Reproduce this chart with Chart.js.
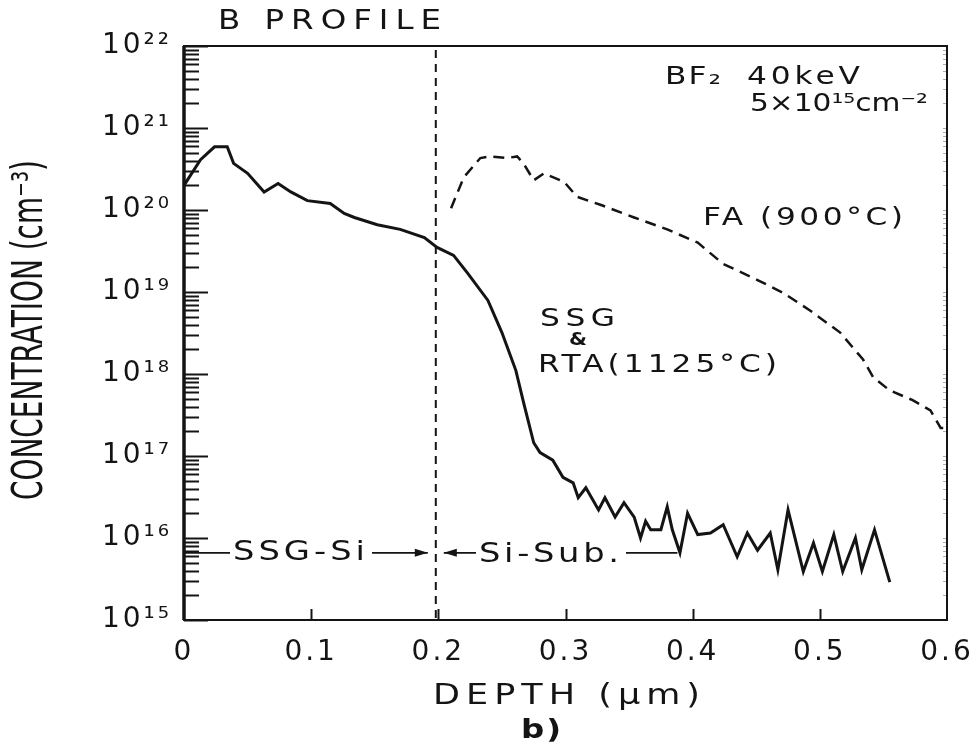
<!DOCTYPE html>
<html>
<head>
<meta charset="utf-8">
<script src="https://cdn.jsdelivr.net/npm/chart.js@4"></script>
<style>
  body { margin: 0; background: #fff; }
</style>
</head>
<body>
<canvas id="profileChart" width="980" height="750"></canvas>
<script>
// depth in um, concentration in cm^-3
const depthSsg = [0.000, 0.013, 0.024, 0.034, 0.039, 0.050, 0.063, 0.074, 0.084, 0.097,
    0.115, 0.126, 0.134, 0.152, 0.170, 0.189, 0.199, 0.212, 0.223, 0.239,
    0.250, 0.261, 0.267, 0.275, 0.280, 0.290, 0.298, 0.306, 0.310, 0.316,
    0.326, 0.331, 0.339, 0.346, 0.354, 0.359, 0.363, 0.367, 0.375, 0.380,
    0.384, 0.390, 0.396, 0.404, 0.414, 0.424, 0.435, 0.443, 0.451, 0.461,
    0.467, 0.475, 0.487, 0.495, 0.502, 0.511, 0.518, 0.528, 0.533, 0.543, 0.555];
const concSsg = [2.0e20, 4.1e20, 5.9e20, 5.9e20, 3.7e20, 2.8e20, 1.66e20, 2.1e20, 1.66e20, 1.3e20,
    1.2e20, 9.1e19, 8.1e19, 6.6e19, 5.8e19, 4.6e19, 3.5e19, 2.8e19, 1.7e19, 7.9e18,
    3.2e18, 1.1e18, 4.5e17, 1.45e17, 1.1e17, 8.9e16, 5.5e16, 4.7e16, 3.1e16, 4.1e16,
    2.2e16, 3.1e16, 1.8e16, 2.7e16, 1.8e16, 1.0e16, 1.6e16, 1.26e16, 1.26e16, 2.4e16,
    1.26e16, 6.6e15, 2.0e16, 1.1e16, 1.15e16, 1.45e16, 5.9e15, 1.15e16, 7.1e15, 1.15e16,
    4.1e15, 2.2e16, 3.9e15, 8.7e15, 3.9e15, 1.1e16, 3.9e15, 1.0e16, 4.1e15, 1.26e16, 2.9e15];

const depthFa = [0.210, 0.220, 0.233, 0.241, 0.254, 0.262, 0.267, 0.275, 0.283, 0.299,
    0.309, 0.328, 0.354, 0.380, 0.404, 0.424, 0.451, 0.471, 0.492, 0.516,
    0.534, 0.542, 0.555, 0.573, 0.587, 0.595, 0.600];
const concFa = [1.05e20, 2.5e20, 4.3e20, 4.5e20, 4.3e20, 4.5e20, 3.7e20, 2.3e20, 2.8e20, 2.2e20,
    1.45e20, 1.15e20, 8.1e19, 5.8e19, 4.0e19, 2.2e19, 1.4e19, 9.8e18, 6.0e18, 3.2e18,
    1.5e18, 9.1e17, 6.3e17, 4.8e17, 3.6e17, 2.2e17, 2.2e17];

const xTicks = [0, 0.1, 0.2, 0.3, 0.4, 0.5, 0.6];
const yDecades = [15, 16, 17, 18, 19, 20, 21, 22];
const interfaceDepth = 0.198;   // SSG-Si / Si-Sub boundary
const layerMarkConc = 6.6e15;
const subEndDepth = 0.388;

const INK = '#141414';
const FONT = '"DejaVu Sans", sans-serif';
const SUP = {'0':'⁰','1':'¹','2':'²','3':'³','4':'⁴','5':'⁵','6':'⁶','7':'⁷','8':'⁸','9':'⁹'};
function sup(n) { return String(n).split('').map(c => SUP[c]).join(''); }

function toPoints(xs, ys) { return xs.map((x, i) => ({ x: x, y: ys[i] })); }

// text fitted to a given width (wider glyphs first, then spacing), left edge at x
function spaced(ctx, text, x, y, size, width, weight) {
    ctx.save();
    ctx.font = (weight || 'normal') + ' ' + size + 'px ' + FONT;
    ctx.letterSpacing = '0px';
    ctx.textAlign = 'left';
    ctx.textBaseline = 'middle';
    const w = ctx.measureText(text).width;
    const n = Array.from(text).length;
    ctx.translate(x, y);
    if (w < width) {
        const sx = Math.min(1.25, width / w);
        const ls = n > 1 ? (width / sx - w) / (n - 1) : 0;
        ctx.scale(sx, 1);
        ctx.letterSpacing = ls + 'px';
        ctx.fillText(text, 0, 0);
    } else {
        ctx.fillText(text, 0, 0, width);
    }
    ctx.restore();
}

function arrowHead(ctx, x, y, dir) {
    ctx.beginPath();
    ctx.moveTo(x, y);
    ctx.lineTo(x - dir * 13, y - 4);
    ctx.lineTo(x - dir * 13, y + 4);
    ctx.closePath();
    ctx.fill();
}

const framePlugin = {
    id: 'frame',
    beforeDraw(chart) {
        chart.ctx.letterSpacing = '3px';
    },
    afterDraw(chart) {
        const ctx = chart.ctx;
        const a = chart.chartArea;
        const xs = chart.scales.x, ys = chart.scales.y;
        ctx.save();
        ctx.letterSpacing = '0px';
        ctx.strokeStyle = INK;
        ctx.fillStyle = INK;

        // frame
        ctx.lineWidth = 2;
        ctx.strokeRect(a.left, a.top, a.right - a.left, a.bottom - a.top);
        ctx.lineWidth = 3.5;
        ctx.beginPath();
        ctx.moveTo(a.left, a.top);
        ctx.lineTo(a.left, a.bottom);
        ctx.stroke();

        // y ticks pointing inward
        yDecades.forEach(e => {
            for (let m = 1; m <= 9; m++) {
                if (e === yDecades[yDecades.length - 1] && m > 1) break;
                const py = Math.round(ys.getPixelForValue(m * Math.pow(10, e))) + 0.5;
                ctx.strokeStyle = INK;
                ctx.lineWidth = 2;
                ctx.beginPath();
                ctx.moveTo(a.left, py);
                ctx.lineTo(a.left + (m === 1 ? 24 : 15), py);
                ctx.stroke();
                ctx.strokeStyle = 'rgba(20,20,20,0.35)';
                ctx.lineWidth = 1;
                ctx.beginPath();
                ctx.moveTo(a.right, py);
                ctx.lineTo(a.right - 4, py);
                ctx.stroke();
            }
        });
        ctx.strokeStyle = INK;

        // x ticks pointing up
        ctx.lineWidth = 2;
        xTicks.slice(1, -1).forEach(v => {
            const px = Math.round(xs.getPixelForValue(v)) + 0.5;
            ctx.beginPath();
            ctx.moveTo(px, a.bottom);
            ctx.lineTo(px, a.bottom - 11);
            ctx.stroke();
        });

        // interface line
        const xi = xs.getPixelForValue(interfaceDepth);
        ctx.setLineDash([8, 6]);
        ctx.beginPath();
        ctx.moveTo(xi, a.top + 4);
        ctx.lineTo(xi, a.bottom);
        ctx.stroke();
        ctx.setLineDash([]);

        // layer markers
        const yl = ys.getPixelForValue(layerMarkConc);
        const x0 = xs.getPixelForValue(0);
        const xe = xs.getPixelForValue(subEndDepth);
        ctx.lineWidth = 1.8;
        ctx.beginPath();
        ctx.moveTo(x0, yl); ctx.lineTo(x0 + 46, yl);
        ctx.moveTo(372, yl); ctx.lineTo(xi - 8, yl);
        ctx.moveTo(xi + 8, yl); ctx.lineTo(476, yl);
        ctx.moveTo(626, yl); ctx.lineTo(xe, yl);
        ctx.stroke();
        arrowHead(ctx, xi - 8, yl, 1);
        arrowHead(ctx, xi + 8, yl, -1);
        spaced(ctx, 'SSG-Si', 233, yl, 27, 132);
        spaced(ctx, 'Si-Sub.', 479, yl + 2, 27, 140);

        // labels
        spaced(ctx, 'B PROFILE', 218, 22, 26, 223);
        spaced(ctx, 'BF₂', 665, 77, 25, 56);
        spaced(ctx, '40keV', 747, 77, 25, 113);
        spaced(ctx, '5×10¹⁵cm⁻²', 750, 104, 25, 178);
        spaced(ctx, 'FA (900°C)', 703, 218, 25, 200);
        spaced(ctx, 'SSG', 540, 319, 25, 75);
        spaced(ctx, '&', 569, 341, 17, 18, 'bold');
        spaced(ctx, 'RTA(1125°C)', 538, 365, 25, 239);

        // axis titles
        spaced(ctx, 'DEPTH (μm)', 433, 697, 28, 267);
        spaced(ctx, 'b)', 521, 731, 26, 40, 'bold');
        ctx.translate(31, 330);
        ctx.rotate(-Math.PI / 2);
        spaced(ctx, 'CONCENTRATION (cm⁻³)', -170, 0, 42, 340);
        ctx.restore();
    }
};

const chart = new Chart(document.getElementById('profileChart'), {
    type: 'scatter',
    data: {
        datasets: [
            {
                label: 'SSG & RTA (1125°C)',
                data: toPoints(depthSsg, concSsg),
                showLine: true,
                borderColor: INK,
                borderWidth: 3,
                pointRadius: 0,
                tension: 0
            },
            {
                label: 'FA (900°C)',
                data: toPoints(depthFa, concFa),
                showLine: true,
                borderColor: INK,
                borderWidth: 2.5,
                borderDash: [11, 7],
                pointRadius: 0,
                tension: 0
            }
        ]
    },
    options: {
        responsive: false,
        animation: false,
        layout: { padding: { left: 0, right: 33, top: 46, bottom: 0 } },
        plugins: {
            legend: { display: false },
            tooltip: { enabled: false }
        },
        scales: {
            x: {
                type: 'linear',
                min: 0,
                max: 0.6,
                afterFit: s => { s.height = 130; },
                afterBuildTicks: s => { s.ticks = xTicks.map(v => ({ value: v })); },
                grid: { display: false },
                border: { display: false },
                ticks: {
                    padding: 8,
                    color: INK,
                    font: { family: FONT, size: 28 },
                    maxRotation: 0,
                    callback: v => v === 0 ? '0' : v.toFixed(1)
                }
            },
            y: {
                type: 'logarithmic',
                min: 1e15,
                max: 1e22,
                afterFit: s => { s.width = 184; },
                afterBuildTicks: s => { s.ticks = yDecades.map(e => ({ value: Math.pow(10, e) })); },
                grid: { display: false },
                border: { display: false },
                ticks: {
                    padding: 4,
                    color: INK,
                    font: { family: FONT, size: 28 },
                    callback: v => '10' + sup(Math.round(Math.log10(v)))
                }
            }
        }
    },
    plugins: [framePlugin]
});
</script>
</body>
</html>
